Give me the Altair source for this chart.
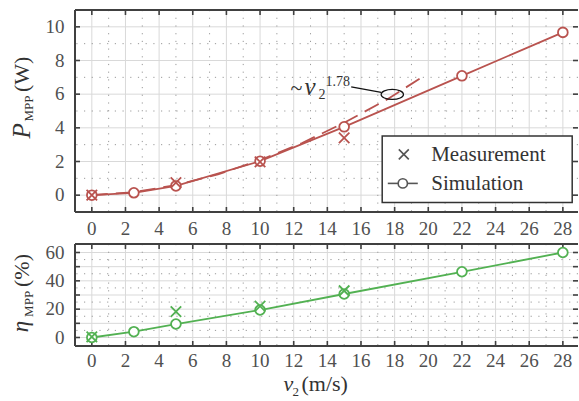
import altair as alt
import pandas as pd

# ---------------- data ----------------
v_sim = [0, 2.5, 5, 10, 15, 22, 28]
p_sim = [0.0, 0.14, 0.55, 2.02, 4.06, 7.09, 9.67]
eta_sim = [0.0, 4.1, 9.5, 19.4, 30.7, 46.4, 60.0]

v_meas = [0, 5, 10, 15]
p_meas = [0.0, 0.75, 1.98, 3.4]
eta_meas = [0.5, 18.2, 22.2, 33.0]

v_fit = [0, 2.5, 5, 7.5, 10, 12.5, 15, 17.5, 19.7]
p_fit = [0.0, 0.18, 0.6, 1.24, 2.08, 3.1, 4.3, 5.66, 7.05]

x_ticks = list(range(0, 29, 2))
x_minor = list(range(1, 29, 2))
p_ticks = [0, 2, 4, 6, 8, 10]
p_minor = [1, 3, 5, 7, 9]
eta_ticks = [0, 10, 20, 30, 40, 50, 60]
eta_labels = [0, 20, 40, 60]
eta_minor = [5, 15, 25, 35, 45, 55]

# ---------------- style ----------------
FONT = "Liberation Serif"
W = 503
H1 = 202
H2 = 102
RED = "#b9534f"
GREEN = "#52b152"
FRAME = "#404040"
GRID = "#d9d9d9"
DOT = "#9a9a9a"
TXT = "#333333"
LAB = "#505050"
LEG = "#555555"
LFS = 19
XPATH = "M-1,-1L1,1M-1,1L1,-1"
ELL = "M-1,0A1,0.45 0 1,0 1,0A1,0.45 0 1,0 -1,0"

xs = alt.Scale(domain=[-1, 28.9], nice=False, zero=False)
ys1 = alt.Scale(domain=[-1, 11], nice=False, zero=False)
ys2 = alt.Scale(domain=[-6, 66], nice=False, zero=False)

dummy = pd.DataFrame({"d": [0]})
df_xt = pd.DataFrame({"v": x_ticks})
df_xm = pd.DataFrame({"v": x_minor})


def X(f="v"):
    return alt.X(f + ":Q", scale=xs, axis=None)


def txt(x, y, s, size=22, style="normal", angle=0, color=TXT):
    kw = dict(font=FONT, fontSize=size, fontStyle=style, align="left",
              baseline="alphabetic", color=color)
    if angle:
        kw["angle"] = angle
    return alt.Chart(dummy).mark_text(**kw).encode(
        x=alt.value(x), y=alt.value(y), text=alt.value(s))


def grid_layers(H, yfield, ytick_list, yminor_list, ys):
    Yf = alt.Y(yfield + ":Q", scale=ys, axis=None)
    dft = pd.DataFrame({yfield: ytick_list})
    dfm = pd.DataFrame({yfield: yminor_list})
    L = [
        alt.Chart(df_xt).mark_rule(color=GRID, strokeWidth=1).encode(x=X()),
        alt.Chart(dft).mark_rule(color=GRID, strokeWidth=1).encode(y=Yf),
        alt.Chart(df_xm).mark_rule(color=DOT, strokeWidth=1, strokeDash=[1.2, 6.5]).encode(x=X()),
        alt.Chart(dfm).mark_rule(color=DOT, strokeWidth=1, strokeDash=[1.2, 6.5]).encode(y=Yf),
        # inward ticks
        alt.Chart(df_xt).mark_rule(color=FRAME, strokeWidth=1.6).encode(
            x=X(), y=alt.value(0), y2=alt.value(5)),
        alt.Chart(df_xt).mark_rule(color=FRAME, strokeWidth=1.6).encode(
            x=X(), y=alt.value(H - 5), y2=alt.value(H)),
        alt.Chart(dft).mark_rule(color=FRAME, strokeWidth=1.6).encode(
            y=Yf, x=alt.value(0), x2=alt.value(5)),
        alt.Chart(dft).mark_rule(color=FRAME, strokeWidth=1.6).encode(
            y=Yf, x=alt.value(W - 5), x2=alt.value(W)),
        # frame (left, top, bottom)
        alt.Chart(dummy).mark_rule(color=FRAME, strokeWidth=2).encode(
            x=alt.value(0), y=alt.value(0), y2=alt.value(H)),
        alt.Chart(dummy).mark_rule(color=FRAME, strokeWidth=2).encode(
            x=alt.value(0), x2=alt.value(W), y=alt.value(0)),
        alt.Chart(dummy).mark_rule(color=FRAME, strokeWidth=2).encode(
            x=alt.value(0), x2=alt.value(W), y=alt.value(H)),
    ]
    return L


def xlabels(ypix):
    return alt.Chart(df_xt).mark_text(font=FONT, fontSize=LFS, color=LAB, align="center",
                                      baseline="alphabetic").encode(
        x=X(), y=alt.value(ypix), text=alt.Text("v:Q"))


def ylabels(yfield, vals, ys):
    return alt.Chart(pd.DataFrame({yfield: vals})).mark_text(
        font=FONT, fontSize=LFS, color=LAB, align="right", baseline="alphabetic", dy=6.3).encode(
        y=alt.Y(yfield + ":Q", scale=ys, axis=None), x=alt.value(-10.5),
        text=alt.Text(yfield + ":Q"))


# ---------------- top panel ----------------
top_sim = pd.DataFrame({"v": v_sim, "p": p_sim})
top_meas = pd.DataFrame({"v": v_meas, "p": p_meas})
top_fit = pd.DataFrame({"v": v_fit, "p": p_fit})
Yp = alt.Y("p:Q", scale=ys1, axis=None)

top_layers = grid_layers(H1, "p", p_ticks, p_minor, ys1)
top_layers += [
    ylabels("p", p_ticks, ys1),
    alt.Chart(top_fit).mark_line(color=RED, strokeWidth=1.8, strokeDash=[16, 8]).encode(x=X(), y=Yp),
    alt.Chart(top_sim).mark_line(color=RED, strokeWidth=1.8).encode(x=X(), y=Yp),
    alt.Chart(top_sim).mark_point(shape="circle", fill="white", fillOpacity=1, stroke=RED,
                                  strokeWidth=1.8, size=95, opacity=1).encode(x=X(), y=Yp),
    alt.Chart(top_meas).mark_point(shape=XPATH, filled=False, stroke=RED, strokeWidth=1.8,
                                   size=110, opacity=1).encode(x=X(), y=Yp),
    # annotation ~ v2^1.78
    txt(215.5, 85.1, "~", size=22),
    txt(229.5, 85.1, "v", size=25, style="italic"),
    txt(243.5, 89.1, "2", size=14),
    txt(250.5, 76.1, "1.78", size=14),
    alt.Chart(dummy).mark_rule(color="#111111", strokeWidth=1.2).encode(
        x=alt.value(276.2), x2=alt.value(306.2), y=alt.value(76.8), y2=alt.value(82.4)),
    alt.Chart(dummy).mark_point(shape=ELL, filled=False, stroke="#111111", strokeWidth=1.2,
                                size=500, opacity=1).encode(x=alt.value(317.3), y=alt.value(84.4)),
    # legend
    alt.Chart(dummy).mark_rect(fill="white", stroke="#333333", strokeWidth=1.5).encode(
        x=alt.value(307.2), x2=alt.value(497.2), y=alt.value(126.1), y2=alt.value(192.4)),
    alt.Chart(dummy).mark_point(shape=XPATH, filled=False, stroke=LEG, strokeWidth=1.6,
                                size=100, opacity=1).encode(x=alt.value(328.8), y=alt.value(144.4)),
    alt.Chart(dummy).mark_rule(color=LEG, strokeWidth=1.6).encode(
        x=alt.value(312.8), x2=alt.value(342.8), y=alt.value(173.4)),
    alt.Chart(dummy).mark_point(shape="circle", fill="white", fillOpacity=1, stroke=LEG,
                                strokeWidth=1.6, size=85, opacity=1).encode(
        x=alt.value(327.8), y=alt.value(173.4)),
    txt(356.2, 151.1, "Measurement", size=21),
    txt(356.2, 180.4, "Simulation", size=21),
    # y title
    txt(-45, 128.4, "P", size=25, style="italic", angle=270),
    txt(-42, 111.6, "MPP", size=13, angle=270),
    txt(-46.5, 82.1, "(W)", angle=270),
    # invisible pin for layout origin
    alt.Chart(dummy).mark_rule(opacity=0, strokeWidth=1).encode(
        x=alt.value(-75), y=alt.value(-9.4), y2=alt.value(0)),
]
top = alt.layer(*top_layers).properties(width=W, height=H1)

# ---------------- bottom panel ----------------
bot_sim = pd.DataFrame({"v": v_sim, "e": eta_sim})
bot_meas = pd.DataFrame({"v": v_meas, "e": eta_meas})
Ye = alt.Y("e:Q", scale=ys2, axis=None)

bot_layers = grid_layers(H2, "e", eta_ticks, eta_minor, ys2)
bot_layers += [
    ylabels("e", eta_labels, ys2),
    xlabels(-8.8),
    xlabels(H2 + 21),
    alt.Chart(bot_sim).mark_line(color=GREEN, strokeWidth=1.8).encode(x=X(), y=Ye),
    alt.Chart(bot_sim).mark_point(shape="circle", fill="white", fillOpacity=1, stroke=GREEN,
                                  strokeWidth=1.8, size=95, opacity=1).encode(x=X(), y=Ye),
    alt.Chart(bot_meas).mark_point(shape=XPATH, filled=False, stroke=GREEN, strokeWidth=1.8,
                                   size=110, opacity=1).encode(x=X(), y=Ye),
    # y title
    txt(-47, 88.2, "η", size=23, style="italic", angle=270),
    txt(-42.5, 72.9, "MPP", size=13, angle=270),
    txt(-46.5, 43.0, "(%)", angle=270),
    # x title
    txt(208.5, 147.2, "v", style="italic"),
    txt(217.5, 152.2, "2", size=13),
    txt(226.5, 147.2, "(m/s)"),
]
bottom = alt.layer(*bot_layers).properties(width=W, height=H2)

chart = alt.vconcat(top, bottom, spacing=32, bounds="flush").properties(
    padding={"left": 0, "top": 0, "right": 0, "bottom": 0}
).configure_view(stroke=None)

chart.save("out.html", embed_options={"renderer": "svg", "actions": False})
